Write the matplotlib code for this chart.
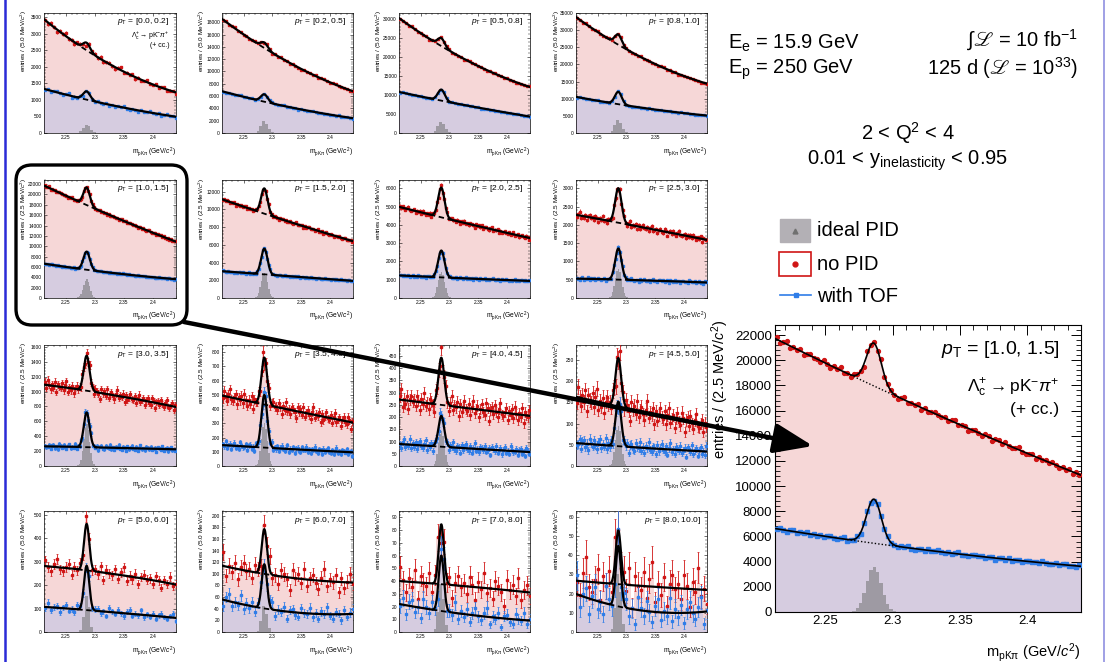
import numpy as np
import matplotlib.pyplot as plt
from matplotlib.patches import FancyBboxPatch, FancyArrowPatch, Rectangle
from matplotlib.ticker import AutoMinorLocator, MultipleLocator, FuncFormatter
from matplotlib.lines import Line2D

plt.rcParams['font.family'] = ['Liberation Sans', 'DejaVu Sans']
plt.rcParams['mathtext.fontset'] = 'custom'
plt.rcParams['mathtext.rm'] = 'Liberation Sans'
plt.rcParams['mathtext.it'] = 'Liberation Sans:italic'
plt.rcParams['mathtext.bf'] = 'Liberation Sans:bold'
plt.rcParams['mathtext.fallback'] = 'stixsans'

# ---- data ----
PT_BINS = ['[0.0, 0.2]', '[0.2, 0.5]', '[0.5, 0.8]', '[0.8, 1.0]',
           '[1.0, 1.5]', '[1.5, 2.0]', '[2.0, 2.5]', '[2.5, 3.0]',
           '[3.0, 3.5]', '[3.5, 4.0]', '[4.0, 4.5]', '[4.5, 5.0]',
           '[5.0, 6.0]', '[6.0, 7.0]', '[7.0, 8.0]', '[8.0, 10.0]']
BIN_MEV = [5.0, 5.0, 5.0, 5.0, 2.5, 2.5, 2.5, 2.5,
           2.5, 2.5, 2.5, 2.5, 5.0, 5.0, 5.0, 5.0]
Y_MAX = [3620, 19500, 31600, 35000, 22800, 13300, 6460, 3230,
         1625, 850, 495, 285, 515, 208, 95, 63]
Y_STEP = [500, 2000, 5000, 5000, 2000, 2000, 1000, 500,
          200, 100, 50, 50, 100, 20, 10, 10]

# background (left edge, middle, right edge) and peak height above it
NOPID_BG = [(3430, 2070, 1225), (18540, 11590, 6780), (30260, 19450, 12100),
            (33800, 22040, 14380), (21730, 16000, 10870), (11127, 8655, 6400),
            (4990, 4110, 3280), (2276, 1940, 1590), (1093, 960, 793),
            (495, 398, 305), (272, 238, 205), (163, 128, 94),
            (281, 249, 202), (114, 94, 85), (40, 36, 31), (26.7, 24, 21.9)]
NOPID_PEAK = [230, 900, 2100, 3000, 3400, 2850, 1630, 945,
              470, 330, 193, 114, 198, 77, 47, 28]
TOF_BG = [(1330, 850, 490), (6780, 4270, 2400), (10800, 7350, 4320),
          (10540, 7380, 5080), (6630, 4900, 3630), (3020, 2470, 1930),
          (1235, 1075, 935), (530, 485, 424), (264, 246, 224),
          (147, 120, 96), (90, 73, 57), (54, 43, 34),
          (107, 85, 60), (56, 35, 31), (22, 14, 9), (19.8, 11.2, 10.7)]
TOF_PEAK = [250, 1200, 2900, 3600, 3500, 2900, 1470, 853,
            466, 370, 126, 105, 189, 76, 43.5, 31.5]
IDEAL_PEAK = [260, 1900, 3000, 3800, 3600, 2840, 1410, 800,
              560, 300, 145, 95, 156, 45, 39, 31]
SIGMA = [0.006, 0.006, 0.006, 0.006, 0.0055, 0.0055, 0.0055, 0.0055,
         0.005, 0.005, 0.005, 0.005, 0.0045, 0.0045, 0.0045, 0.0045]
ERR_SCALE = [1.0, 1.0, 1.0, 1.0, 1.0, 1.0, 1.1, 1.2,
             1.4, 1.4, 1.4, 1.3, 1.2, 1.2, 1.2, 1.4]

# bin-by-bin scatter of the points around the fit, in units of their error
RESID_RED = [0.3, -0.8, 1.1, 0.2, -1.4, 0.6, -0.2, 1.7, -0.5, 0.1,
             -1.1, 0.9, 0.4, -0.3, -1.8, 1.2, 0.0, 0.7, -0.6, 1.5,
             -1.0, 0.2, 0.8, -0.4, -1.3, 0.5, 1.9, -0.7, 0.3, -0.1,
             1.0, -1.6, 0.6, -0.9, 0.1, 1.3, -0.2, -0.5, 0.9, -1.2,
             0.4, 1.6, -0.8, 0.0, 0.7, -1.5, 0.2, 1.1, -0.3, -0.9,
             1.4, 0.5, -1.9, 0.3, 0.8, -0.6, 1.2, -0.1, -1.0, 0.6,
             1.8, -0.4, -0.7, 0.2, 1.0, -1.3, 0.5, -0.2, 0.9, -0.8,
             1.5, 0.1, -1.1, 0.4, -0.5, 1.3, -1.7, 0.7, 0.0, -0.3,
             1.1, -0.9, 0.6, 1.9, -1.2, 0.2, -0.6, 0.8, -1.4, 0.3,
             1.0, -0.1]
RESID_BLUE = [-0.5, 0.9, -1.2, 0.4, 1.3, -0.1, -0.8, 0.6, 1.7, -1.4,
              0.2, -0.3, 1.0, -1.7, 0.5, 0.8, -0.6, -1.0, 1.2, 0.1,
              -0.2, 1.5, -0.9, 0.3, -1.3, 0.7, 0.0, 1.8, -0.4, -1.1,
              0.6, 0.2, -1.6, 1.1, -0.7, 0.4, 1.4, -0.2, -0.9, 0.8,
              -1.5, 0.3, 1.9, -0.6, 0.1, -1.2, 0.9, 0.5, -0.3, 1.3,
              -0.8, -0.1, 0.7, -1.9, 1.0, 0.4, -0.5, 1.6, -1.0, 0.2,
              0.8, -1.4, 0.3, 1.2, -0.7, 0.0, -1.1, 1.7, 0.5, -0.4,
              -0.2, 1.0, -1.3, 0.6, 0.9, -0.8, 0.1, -1.6, 1.4, 0.3,
              -0.6, 1.1, -0.1, -1.2, 0.7, 1.5, -0.9, 0.2, -0.4, 1.8,
              -1.0, 0.5]

M_LC = 2.286
X_LO, X_HI = 2.2125, 2.44

RED = '#d01515'
BLUE = '#2f7de8'
PINK = '#f6d7d7'
LAV = '#d6cce0'
GREY = '#9e9aa3'

W, H = 1107, 662
fig = plt.figure(figsize=(W / 100, H / 100), dpi=100)


def bg_curve(x, bg):
    l, m, r = bg
    t = (x - X_LO) / (X_HI - X_LO)
    c = 2 * (l - 2 * m + r)
    b = r - l - c
    return l + b * t + c * t * t


def gauss(x, amp, sig):
    return amp * np.exp(-0.5 * ((x - M_LC) / sig) ** 2)


def panel_data(i):
    step = BIN_MEV[i] / 1000.0
    edges = np.arange(X_LO, X_HI + step * 0.99, step)
    cen = 0.5 * (edges[1:] + edges[:-1])
    n = len(cen)
    shift = (i * 13) % 40
    rr = np.roll(np.array(RESID_RED), shift)[:n]
    rb = np.roll(np.array(RESID_BLUE), shift)[:n]
    mu_r = bg_curve(cen, NOPID_BG[i]) + gauss(cen, NOPID_PEAK[i], SIGMA[i])
    mu_b = bg_curve(cen, TOF_BG[i]) + gauss(cen, TOF_PEAK[i], SIGMA[i])
    red = mu_r + rr * ERR_SCALE[i] * np.sqrt(mu_r)
    blue = mu_b + rb * ERR_SCALE[i] * np.sqrt(mu_b)
    ideal = gauss(cen, IDEAL_PEAK[i], SIGMA[i])
    return edges, cen, red, blue, ideal


def px_axes(x0, y0, x1, y1):
    return fig.add_axes([x0 / W, 1 - y1 / H, (x1 - x0) / W, (y1 - y0) / H])


def draw_panel(ax, i, big=False):
    edges, cen, red, blue, ideal = panel_data(i)
    sc = ERR_SCALE[i]
    ax.stairs(red, edges, fill=True, color=PINK, zorder=1)
    ax.stairs(blue, edges, fill=True, color=LAV, zorder=2)
    ax.stairs(ideal, edges, fill=True, color=GREY, zorder=3)
    if big:
        ax.errorbar(cen, red, yerr=sc * np.sqrt(red), fmt='o', ms=2.8, color=RED,
                    elinewidth=0.9, capsize=0, zorder=4)
        ax.errorbar(cen, blue, yerr=sc * np.sqrt(blue), fmt='s', ms=2.5, color=BLUE,
                    elinewidth=0.9, capsize=0, zorder=5)
    else:
        cap = 1.0 if i >= 8 else 0
        ax.errorbar(cen, red, yerr=sc * np.sqrt(red), fmt='s', ms=1.8, color=RED,
                    elinewidth=0.6, capsize=cap, capthick=0.5, zorder=4)
        ax.errorbar(cen, blue, yerr=sc * np.sqrt(blue), fmt='s', ms=1.8, color=BLUE,
                    elinewidth=0.6, capsize=cap, capthick=0.5, zorder=5)

    xf = np.linspace(X_LO, X_HI, 600)
    xs = np.linspace(M_LC - 3.6 * SIGMA[i], M_LC + 3.6 * SIGMA[i], 50)
    lw = 1.2 if big else 1.6
    for bg, pk in ((NOPID_BG[i], NOPID_PEAK[i]), (TOF_BG[i], TOF_PEAK[i])):
        ax.plot(xf, bg_curve(xf, bg) + gauss(xf, pk, SIGMA[i]), color='black', lw=lw, zorder=7)
        if big:
            ax.plot(xs, bg_curve(xs, bg), color='black', lw=1.0, ls=(0, (1, 1.5)), zorder=6)
        else:
            ax.plot(xs, bg_curve(xs, bg), color='black', lw=1.3, ls=(0, (3, 2)), zorder=6)

    ax.set_xlim(X_LO, X_HI)
    ax.set_ylim(0, Y_MAX[i])
    ax.xaxis.set_major_locator(MultipleLocator(0.05))
    ax.xaxis.set_minor_locator(AutoMinorLocator(5))
    ax.yaxis.set_major_locator(MultipleLocator(Y_STEP[i]))
    ax.yaxis.set_minor_locator(AutoMinorLocator(5))
    ax.xaxis.set_major_formatter(FuncFormatter(lambda v, p: ('%.2f' % v).rstrip('0')))
    ax.yaxis.set_major_formatter(FuncFormatter(lambda v, p: '%d' % round(v)))
    if big:
        ax.tick_params(which='major', direction='in', top=True, right=True, length=7,
                       width=0.7, labelsize=9.5, pad=2)
        ax.tick_params(which='minor', direction='in', top=True, right=True, length=3.5, width=0.6)
        for s in ax.spines.values():
            s.set_linewidth(0.8)
    else:
        ax.tick_params(which='major', direction='in', top=True, right=True, length=2.5,
                       width=0.4, labelsize=3.5, pad=1.5)
        ax.tick_params(which='minor', direction='in', top=True, right=True, length=1.3, width=0.3)
        for s in ax.spines.values():
            s.set_linewidth(0.5)

    ylab = r'entries / (%.1f MeV/$c^2$)' % BIN_MEV[i]
    xlab = r'm$_{\rm pK\pi}$ (GeV/$c^2$)'
    ptl = r'$p_{\rm T}$ = ' + PT_BINS[i]
    if big:
        ax.text(-0.178, 1.02, ylab, rotation=90, ha='center', va='top', fontsize=10.5,
                transform=ax.transAxes)
        ax.text(1.0, -0.14, xlab, ha='right', va='center', fontsize=10.5, transform=ax.transAxes)
        ax.text(0.93, 0.915, ptl, ha='right', va='center', fontsize=14, transform=ax.transAxes)
        ax.text(0.93, 0.78, r'$\Lambda_{\rm c}^{+}\rightarrow$pK$^{-}\pi^{+}$', ha='right',
                va='center', fontsize=12.5, transform=ax.transAxes)
        ax.text(0.93, 0.705, '(+ cc.)', ha='right', va='center', fontsize=12.5,
                transform=ax.transAxes)
    else:
        ax.text(-0.15, 1.02, ylab, rotation=90, ha='center', va='top', fontsize=4.6,
                transform=ax.transAxes)
        ax.text(1.0, -0.16, xlab, ha='right', va='center', fontsize=4.8, transform=ax.transAxes)
        ax.text(0.95, 0.925, ptl, ha='right', va='center', fontsize=6, transform=ax.transAxes)
        if i == 0:
            ax.text(0.95, 0.81, r'$\Lambda_{\rm c}^{+}\rightarrow$pK$^{-}\pi^{+}$', ha='right',
                    va='center', fontsize=5, transform=ax.transAxes)
            ax.text(0.95, 0.73, '(+ cc.)', ha='right', va='center', fontsize=5,
                    transform=ax.transAxes)


COL_X = [(44, 176), (222, 353), (399, 530), (576, 707)]
ROW_Y = [(13, 133), (180, 298), (345, 466), (511, 632)]

for i in range(16):
    r, c = divmod(i, 4)
    ax = px_axes(COL_X[c][0], ROW_Y[r][0], COL_X[c][1], ROW_Y[r][1])
    draw_panel(ax, i)

big = px_axes(775, 325, 1081, 612)
draw_panel(big, 4, big=True)

# ---- overlay: box, arrow, text, legend ----
ov = fig.add_axes([0, 0, 1, 1], zorder=10)
ov.set_xlim(0, W)
ov.set_ylim(H, 0)
ov.axis('off')
ov.patch.set_alpha(0)

ov.plot([5, 5], [0, H], color='#2b2bd6', lw=1.8)
ov.plot([1104, 1104], [0, H], color='#9090e0', lw=1.2)

ov.add_patch(FancyBboxPatch((16, 165), 171, 160, boxstyle='round,pad=0,rounding_size=16',
                            fill=False, lw=2.4, ec='black'))
ov.add_patch(FancyArrowPatch((184, 322), (813, 446),
                             arrowstyle='-|>,head_length=1.7,head_width=0.65',
                             mutation_scale=14, lw=3.2, color='black',
                             shrinkA=0, shrinkB=0))

fs = 14.5
ov.text(728, 43, r'E$_{\rm e}$ = 15.9 GeV', fontsize=fs, va='center', ha='left')
ov.text(728, 70, r'E$_{\rm p}$ = 250 GeV', fontsize=fs, va='center', ha='left')
ov.text(1078, 40, '$\\int\u2112$ = 10 fb$^{-1}$', fontsize=fs, va='center', ha='right')
ov.text(1078, 68, '125 d ($\u2112$ = 10$^{33}$)', fontsize=fs, va='center', ha='right')
ov.text(908, 133, r'2 < Q$^{2}$ < 4', fontsize=fs, va='center', ha='center')
ov.text(908, 161, r'0.01 < y$_{\rm inelasticity}$ < 0.95', fontsize=fs, va='center', ha='center')

ov.add_patch(Rectangle((780, 219), 30, 23, fc='#b3b0b5', ec='#b3b0b5'))
ov.plot([795], [230.5], marker='^', ms=3.5, color='#707070')
ov.add_patch(Rectangle((779, 252), 32, 24, fc='white', ec=RED, lw=1.2))
ov.plot([795], [264], marker='o', ms=3.5, color=RED)
ov.add_line(Line2D([780, 811], [295, 295], color=BLUE, lw=1.2))
ov.plot([795.5], [295], marker='s', ms=3.5, color=BLUE)
ov.text(817, 231, 'ideal PID', fontsize=fs, va='center', ha='left')
ov.text(817, 264, 'no PID', fontsize=fs, va='center', ha='left')
ov.text(817, 296, 'with TOF', fontsize=fs, va='center', ha='left')

fig.savefig('out.png', dpi=100)
